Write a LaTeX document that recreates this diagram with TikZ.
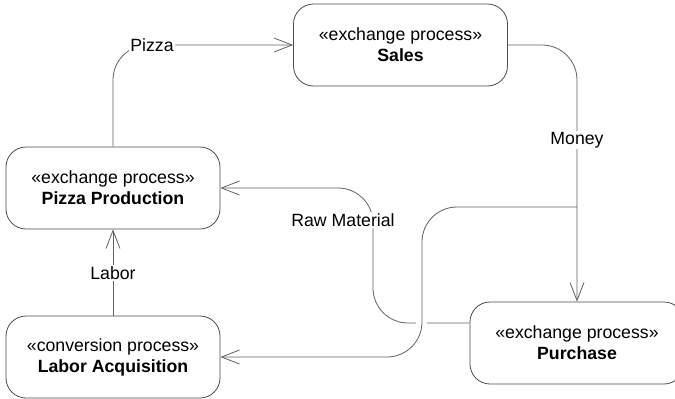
\documentclass[tikz,border=0pt]{standalone}
\usepackage{fontspec}
\setmainfont{Liberation Sans}
\usetikzlibrary{arrows.meta}

\begin{document}
\begin{tikzpicture}[x=1pt,y=-1pt,
  proc/.style={draw=black!70, line width=0.8pt, rounded corners=20pt,
    minimum width=214pt, minimum height=82pt, align=center, fill=white,
    inner sep=0pt, font=\fontsize{17.7}{21}\selectfont},
  flow/.style={draw=black!62, line width=0.8pt, rounded corners=35pt,
    -{Straight Barb[length=18pt,width=14pt]}},
  lbl/.style={fill=white, inner sep=1.5pt, font=\fontsize{17.7}{21}\selectfont}
]
\useasboundingbox (0,0) rectangle (675,399);
\clip (0,0) rectangle (675,399);

% process boxes
\node[proc] (sales) at (400.5,45)  {«exchange process»\\\textbf{Sales}};
\node[proc] (prod)  at (113,188)   {«exchange process»\\\textbf{Pizza Production}};
\node[proc] (labor) at (113,357)   {«conversion process»\\\textbf{Labor Acquisition}};
\node[proc] (purch) at (577,343)   {«exchange process»\\\textbf{Purchase}};

% anchor points for the flows
\coordinate (rawstart) at ([yshift=20pt]purch.west);
\coordinate (split) at (577,207);

% flows
\draw[flow] (prod.north) |- (sales.west);
\node[lbl] (pizzalbl) at (152,45) {Pizza};

\draw[flow] (sales.east) -| (purch.north);
\node[lbl] (moneylbl) at (577,140) {Money};

\draw[flow] (rawstart) -- (373,323) -- (373,188) -- (prod.east);
\node[lbl] (rawlbl) at (343,220) {Raw Material};

% line hop where the two flows cross
\fill[white] (416,320) rectangle (427,326);
\draw[flow] (split) -- (422,207) -- (422,357) -- (labor.east);

\draw[flow] (labor.north) -- (prod.south);
\node[lbl] (laborlbl) at (113,273) {Labor};
\end{tikzpicture}
\end{document}
